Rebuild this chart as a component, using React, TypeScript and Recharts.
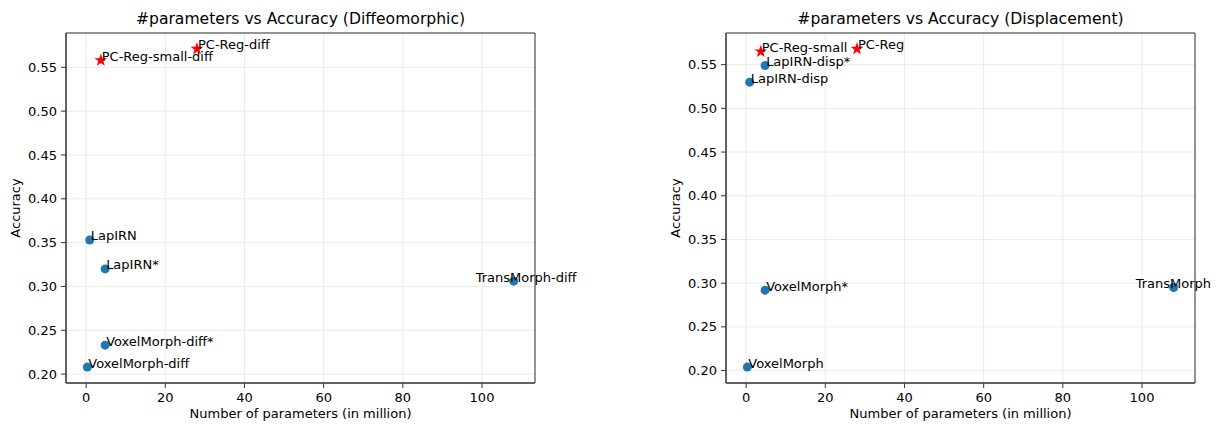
import { ScatterChart, Scatter, XAxis, YAxis, CartesianGrid, ReferenceArea, Label } from 'recharts'

const FONT = '"DejaVu Sans", sans-serif'

const X_TICKS = [0, 20, 40, 60, 80, 100]
const Y_TICKS = [0.2, 0.25, 0.3, 0.35, 0.4, 0.45, 0.5, 0.55]

// Diffeomorphic
const DIFF_NAMES = ['VoxelMorph-diff', 'VoxelMorph-diff*', 'LapIRN', 'LapIRN*', 'TransMorph-diff']
const DIFF_PARAMS = [0.3, 4.8, 0.9, 4.8, 108]
const DIFF_ACC = [0.208, 0.233, 0.353, 0.32, 0.306]
const OURS_DIFF_NAMES = ['PC-Reg-small-diff', 'PC-Reg-diff']
const OURS_DIFF_PARAMS = [3.7, 28]
const OURS_DIFF_ACC = [0.558, 0.571]

// Displacement
const DISP_NAMES = ['VoxelMorph', 'VoxelMorph*', 'LapIRN-disp', 'LapIRN-disp*', 'TransMorph']
const DISP_PARAMS = [0.3, 4.8, 0.9, 4.8, 108]
const DISP_ACC = [0.204, 0.292, 0.53, 0.549, 0.295]
const OURS_DISP_NAMES = ['PC-Reg-small', 'PC-Reg']
const OURS_DISP_PARAMS = [3.7, 28]
const OURS_DISP_ACC = [0.565, 0.568]

type Row = { name: string; x: number; y: number }

const rows = (names: string[], xs: number[], ys: number[]): Row[] =>
  names.map((name, i) => ({ name, x: xs[i], y: ys[i] }))

// matplotlib-style 5% margins
function padDomain(vals: number[]): [number, number] {
  const lo = Math.min(...vals)
  const hi = Math.max(...vals)
  const m = (hi - lo) * 0.05
  return [lo - m, hi + m]
}

function PointLabel({ cx, cy, name }: { cx: number; cy: number; name: string }) {
  // TransMorph labels were shifted left in the original so they sit over the point
  const dx = name.startsWith('TransMorph') ? -38 : 1
  return (
    <text x={cx + dx} y={cy + 0.5} fontSize={13} fontFamily={FONT} fill="#000">
      {name}
    </text>
  )
}

function CircleDot(props: any) {
  const { cx, cy, payload } = props
  return (
    <g>
      <circle cx={cx} cy={cy} r={4.5} fill="#1f77b4" />
      <PointLabel cx={cx} cy={cy} name={payload.name} />
    </g>
  )
}

function StarDot(props: any) {
  const { cx, cy, payload } = props
  const R = 6.8
  const r = R * 0.382
  const pts: string[] = []
  for (let i = 0; i < 10; i++) {
    const a = -Math.PI / 2 + (i * Math.PI) / 5
    const rad = i % 2 === 0 ? R : r
    pts.push(`${cx + rad * Math.cos(a)},${cy + rad * Math.sin(a)}`)
  }
  return (
    <g>
      <polygon points={pts.join(' ')} fill="#ff0000" />
      <PointLabel cx={cx} cy={cy} name={payload.name} />
    </g>
  )
}

interface PanelProps {
  title: string
  left: number
  width: number
  marginRight: number
  base: Row[]
  ours: Row[]
}

function Panel({ title, left, width, marginRight, base, ours }: PanelProps) {
  const all = [...base, ...ours]
  const xDomain = padDomain(all.map((d) => d.x))
  const yDomain = padDomain(all.map((d) => d.y))
  const plotLeft = 66
  const plotWidth = width - plotLeft - marginRight

  return (
    <div style={{ position: 'absolute', left, top: 0, width, height: 424 }}>
      <div
        style={{
          position: 'absolute',
          left: plotLeft,
          top: 9.5,
          width: plotWidth,
          textAlign: 'center',
          fontFamily: FONT,
          fontSize: 15.6,
          color: '#000',
          whiteSpace: 'nowrap',
        }}
      >
        {title}
      </div>
      <ScatterChart width={width} height={424} margin={{ top: 33, right: marginRight, bottom: 0, left: 0 }} style={{ overflow: 'visible' }}>
        <CartesianGrid stroke="#e6e6e6" strokeWidth={0.8} />
        <XAxis
          type="number"
          dataKey="x"
          domain={xDomain}
          ticks={X_TICKS}
          height={41}
          tickSize={5}
          tickMargin={5}
          stroke="#333"
          tick={{ fontSize: 13, fontFamily: FONT, fill: '#000' }}
        >
          <Label
            content={({ viewBox }: any) => (
              <text x={viewBox.x + viewBox.width / 2} y={viewBox.y + 35} textAnchor="middle" fontSize={13} fontFamily={FONT} fill="#000">
                Number of parameters (in million)
              </text>
            )}
          />
        </XAxis>
        <YAxis
          type="number"
          dataKey="y"
          domain={yDomain}
          ticks={Y_TICKS}
          width={66}
          tickSize={5}
          tickMargin={4}
          stroke="#333"
          tickFormatter={(v: number) => v.toFixed(2)}
          tick={{ fontSize: 13, fontFamily: FONT, fill: '#000' }}
        >
          <Label
            content={({ viewBox }: any) => {
              const cy = viewBox.y + viewBox.height / 2
              return (
                <text x={20} y={cy} transform={`rotate(-90, 20, ${cy})`} textAnchor="middle" fontSize={13} fontFamily={FONT} fill="#000">
                  Accuracy
                </text>
              )
            }}
          />
        </YAxis>
        <ReferenceArea x1={xDomain[0]} x2={xDomain[1]} y1={yDomain[0]} y2={yDomain[1]} fill="none" stroke="#333" strokeWidth={1} />
        <Scatter data={base} shape={CircleDot} isAnimationActive={false} />
        <Scatter data={ours} shape={StarDot} isAnimationActive={false} />
      </ScatterChart>
    </div>
  )
}

export default function App() {
  return (
    <div style={{ position: 'absolute', left: 0, top: 0, width: 1218, height: 424, background: '#fff', overflow: 'hidden' }}>
      <Panel
        title="#parameters vs Accuracy (Diffeomorphic)"
        left={0}
        width={609}
        marginRight={74}
        base={rows(DIFF_NAMES, DIFF_PARAMS, DIFF_ACC)}
        ours={rows(OURS_DIFF_NAMES, OURS_DIFF_PARAMS, OURS_DIFF_ACC)}
      />
      <Panel
        title="#parameters vs Accuracy (Displacement)"
        left={660}
        width={558}
        marginRight={23}
        base={rows(DISP_NAMES, DISP_PARAMS, DISP_ACC)}
        ours={rows(OURS_DISP_NAMES, OURS_DISP_PARAMS, OURS_DISP_ACC)}
      />
    </div>
  )
}
